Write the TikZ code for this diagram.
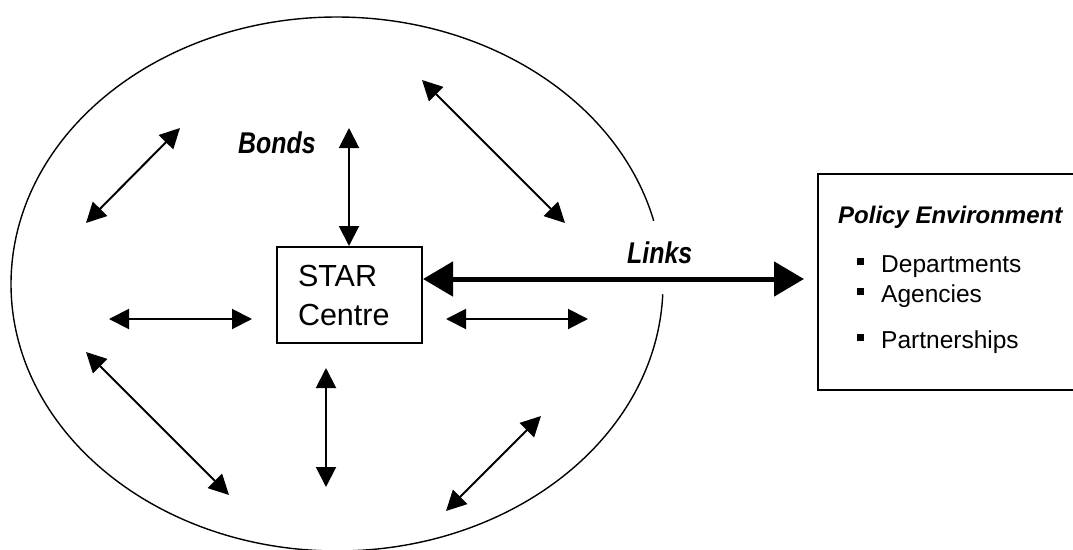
\documentclass[tikz,border=0pt]{standalone}
\usepackage{fontspec}
\setmainfont{Liberation Sans}
\newfontfamily\condfont[FakeStretch=0.83]{Liberation Sans}
\usetikzlibrary{arrows.meta}

\begin{document}
\begin{tikzpicture}[x=1pt,y=-1pt,
  bond/.style={line width=2pt,
    {Triangle[length=20pt,width=20pt]}-{Triangle[length=20pt,width=20pt]}},
  link/.style={line width=5pt,
    {Triangle[length=30pt,width=34pt]}-{Triangle[length=30pt,width=34pt]}},
  lbl/.style={font=\condfont\bfseries\itshape\fontsize{30}{32}\selectfont,
    inner sep=0pt, anchor=base west},
  centrebox/.style={draw, line width=2pt, text width=103pt, inner xsep=21pt,
    inner ysep=0pt, minimum height=96pt, align=left,
    font=\fontsize{30.5}{39}\selectfont},
  panel/.style={draw, line width=1.5pt, minimum width=275pt,
    minimum height=216pt, anchor=north west, inner sep=0pt},
  heading/.style={font=\bfseries\itshape\fontsize{24}{28}\selectfont,
    inner sep=0pt, anchor=base west},
  item/.style={font=\fontsize{24.5}{28}\selectfont, inner sep=0pt,
    anchor=base west},
  square/.style={fill=black, minimum size=7pt, inner sep=0pt}]

\useasboundingbox (0,0) rectangle (1073,549);

% outer boundary of the network, open where the links leave it
\coordinate (ellC) at (337,284);
\draw[line width=1.4pt] (ellC) ++(2.2:326 and 267)
  arc[start angle=2.2, end angle=346.3, x radius=326, y radius=267];

% the centre
\node[centrebox] (star) at (349.5,295) {STAR\\Centre};

% bond arrows
\coordinate (b1a) at (180,128);  \coordinate (b1b) at (86,223);
\coordinate (b2a) at (349,128);
\coordinate (b3a) at (422,80);   \coordinate (b3b) at (565,223);
\coordinate (b4a) at (109,319);  \coordinate (b4b) at (252,319);
\coordinate (b5a) at (446,319);  \coordinate (b5b) at (588,319);
\coordinate (b6a) at (86,352);   \coordinate (b6b) at (229,495);
\coordinate (b7a) at (326,368);  \coordinate (b7b) at (326,487);
\coordinate (b8a) at (541,416);  \coordinate (b8b) at (446,511);

\draw[bond] (b1a) -- (b1b);
\draw[bond] (b2a) -- (b2a |- star.north);
\draw[bond] (b3a) -- (b3b);
\draw[bond] (b4a) -- (b4b);
\draw[bond] (b5a) -- (b5b);
\draw[bond] (b6a) -- (b6b);
\draw[bond] (b7a) -- (b7b);
\draw[bond] (b8a) -- (b8b);

\node[lbl] (bonds) at (238,153) {Bonds};

% policy environment panel
\node[panel] (policy) at (817,173) {};
\node[heading] (ph) at (838,223) {Policy Environment};
\node[square] (s1) at (860,261.5) {};
\node[item] (i1) at (881,272) {Departments};
\node[square] (s2) at (860,291.5) {};
\node[item] (i2) at (881,302) {Agencies};
\node[square] (s3) at (860,337.5) {};
\node[item] (i3) at (881,348) {Partnerships};

% link from the centre to the policy environment
\coordinate (lA) at (star.east |- 0,279);
\coordinate (lB) at (804,279);
\draw[link] (lA) -- (lB);
\node[lbl] (links) at (627,263) {Links};

\end{tikzpicture}
\end{document}
